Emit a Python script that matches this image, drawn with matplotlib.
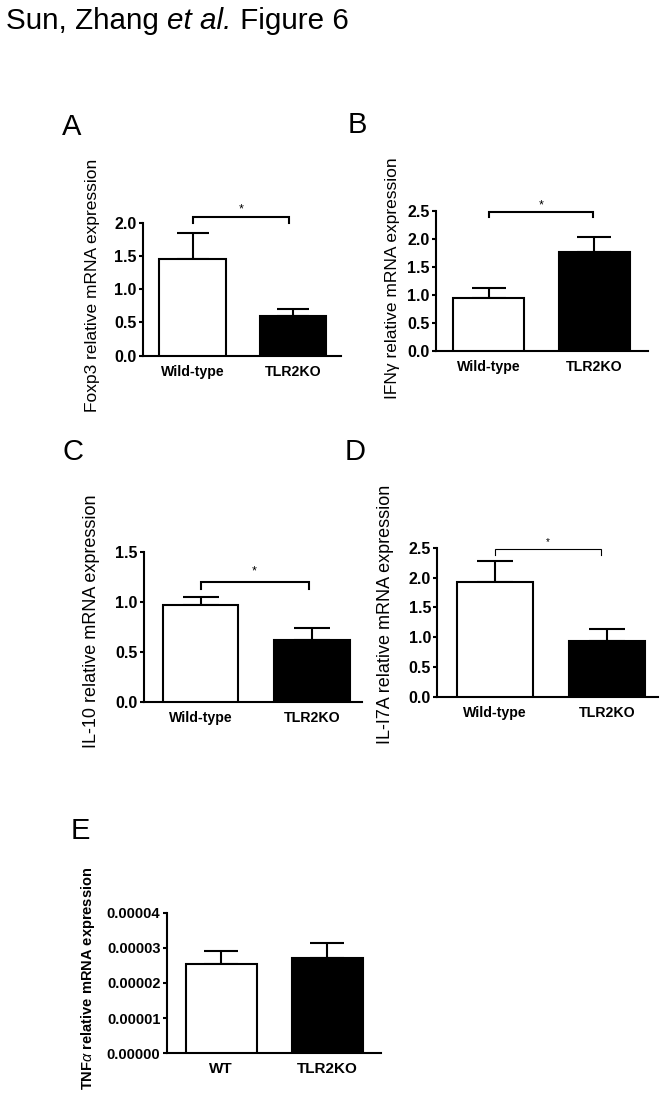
import matplotlib
matplotlib.use('Agg')
import matplotlib.pyplot as plt

plt.rcParams['font.family'] = ['Liberation Sans', 'DejaVu Sans']
plt.rcParams['mathtext.fontset'] = 'custom'
plt.rcParams['mathtext.rm'] = 'Liberation Sans'
plt.rcParams['mathtext.it'] = 'Liberation Sans:italic'
plt.rcParams['mathtext.bf'] = 'Liberation Sans:bold'

# data
groups = ['Wild-type', 'TLR2KO']
groups_e = ['WT', 'TLR2KO']

foxp3_mean = [1.46, 0.59]
foxp3_sem = [0.39, 0.11]

ifng_mean = [0.95, 1.77]
ifng_sem = [0.17, 0.26]

il10_mean = [0.97, 0.62]
il10_sem = [0.08, 0.12]

il17a_mean = [1.93, 0.94]
il17a_sem = [0.34, 0.20]

tnfa_mean = [2.54e-5, 2.72e-5]
tnfa_sem = [0.37e-5, 0.43e-5]

W, H = 671, 1103
fig = plt.figure(figsize=(W / 100, H / 100), dpi=100)


def px_axes(left, top, right, bottom):
    return fig.add_axes([left / W, 1 - bottom / H, (right - left) / W, (bottom - top) / H])


def px_text(x, y, s, **kw):
    return fig.text(x / W, 1 - y / H, s, **kw)


def panel(ax, names, mean, sem, ylim, yticks, fmt, xlim, width, capsize,
          tick_size=11.5, xlab_size=10.2):
    x = [0, 1]
    ax.bar(x, mean, width=width, color=['white', 'black'], edgecolor='black',
           linewidth=1.5, zorder=3)
    ax.errorbar(x, mean, yerr=[[0, 0], sem], fmt='none', ecolor='black',
                elinewidth=1.5, capsize=capsize, capthick=1.5, zorder=2)
    ax.set_xlim(*xlim)
    ax.set_ylim(*ylim)
    ax.set_yticks(yticks)
    ax.set_yticklabels([fmt % t for t in yticks], fontsize=tick_size, fontweight='bold')
    ax.set_xticks(x)
    ax.set_xticklabels(names, fontsize=xlab_size, fontweight='bold')
    ax.tick_params(axis='y', direction='out', length=3, width=1.5, pad=1.5)
    ax.tick_params(axis='x', length=0, pad=6.5)
    for s in ['top', 'right']:
        ax.spines[s].set_visible(False)
    for s in ['left', 'bottom']:
        ax.spines[s].set_linewidth(1.5)


def bracket(ax, x0, x1, ylow, yhigh, ystar, lw=1.5, star_size=9):
    ax.plot([x0, x0, x1, x1], [ylow, yhigh, yhigh, ylow], color='black', lw=lw,
            clip_on=False, solid_joinstyle='miter')
    ax.text((x0 + x1) / 2, ystar, '*', ha='center', va='center', fontsize=star_size,
            clip_on=False)


# title, built from pieces so the italic part sits in line
renderer = fig.canvas.get_renderer()
x_cur = 6
for piece, style in [('Sun, Zhang ', 'normal'), ('et al.', 'italic'), (' Figure 6', 'normal')]:
    t = px_text(x_cur, 29, piece, fontsize=21.3, fontstyle=style, va='baseline', ha='left')
    x_cur += t.get_window_extent(renderer).width

# A
axA = px_axes(142.7, 222.7, 340.7, 355.7)
panel(axA, groups, foxp3_mean, foxp3_sem, (0, 2.0), [0, 0.5, 1.0, 1.5, 2.0], '%.1f',
      (-0.498, 1.476), 0.665, 11.5)
bracket(axA, 0, 0.96, 2.0, 2.08, 2.2)
px_text(62, 135, 'A', fontsize=21, va='baseline')
px_text(93, 285, 'Foxp3 relative mRNA expression', rotation=90, fontsize=12.5,
        ha='center', va='center')

# B
axB = px_axes(435.7, 210.7, 647.7, 351.3)
panel(axB, groups, ifng_mean, ifng_sem, (0, 2.5), [0, 0.5, 1.0, 1.5, 2.0, 2.5], '%.1f',
      (-0.504, 1.508), 0.674, 12.2)
bracket(axB, 0, 0.99, 2.39, 2.48, 2.59)
px_text(348, 133, 'B', fontsize=21, va='baseline')
px_text(392, 278, 'IFNγ relative mRNA expression', rotation=90, fontsize=12.5,
        ha='center', va='center')

# C
axC = px_axes(143.7, 551.7, 362, 702)
panel(axC, groups, il10_mean, il10_sem, (0, 1.5), [0, 0.5, 1.0, 1.5], '%.1f',
      (-0.51, 1.45), 0.68, 13)
bracket(axC, 0, 0.97, 1.13, 1.20, 1.30)
px_text(62, 460, 'C', fontsize=21, va='baseline')
px_text(92, 621, 'IL-10 relative mRNA expression', rotation=90, fontsize=13,
        ha='center', va='center')

# D
axD = px_axes(437.3, 547.7, 658, 697)
panel(axD, groups, il17a_mean, il17a_sem, (0, 2.5), [0, 0.5, 1.0, 1.5, 2.0, 2.5], '%.1f',
      (-0.515, 1.455), 0.68, 13)
bracket(axD, 0, 0.95, 2.37, 2.47, 2.6, lw=0.8, star_size=7)
px_text(345, 460, 'D', fontsize=21, va='baseline')
px_text(385, 614, 'IL-I7A relative mRNA expression', rotation=90, fontsize=13,
        ha='center', va='center')

# E
axE = px_axes(166.7, 912.7, 380.7, 1053.3)
panel(axE, groups_e, tnfa_mean, tnfa_sem, (0, 4e-5), [0, 1e-5, 2e-5, 3e-5, 4e-5], '%.5f',
      (-0.514, 1.503), 0.67, 12.5, tick_size=10.5, xlab_size=11)
px_text(71, 839, 'E', fontsize=21, va='baseline')
px_text(88, 978, r'TNF$\mathit{\alpha}$ relative mRNA expression', rotation=90, fontsize=10.5,
        fontweight='bold', ha='center', va='center')

fig.savefig('out.png', dpi=100)
